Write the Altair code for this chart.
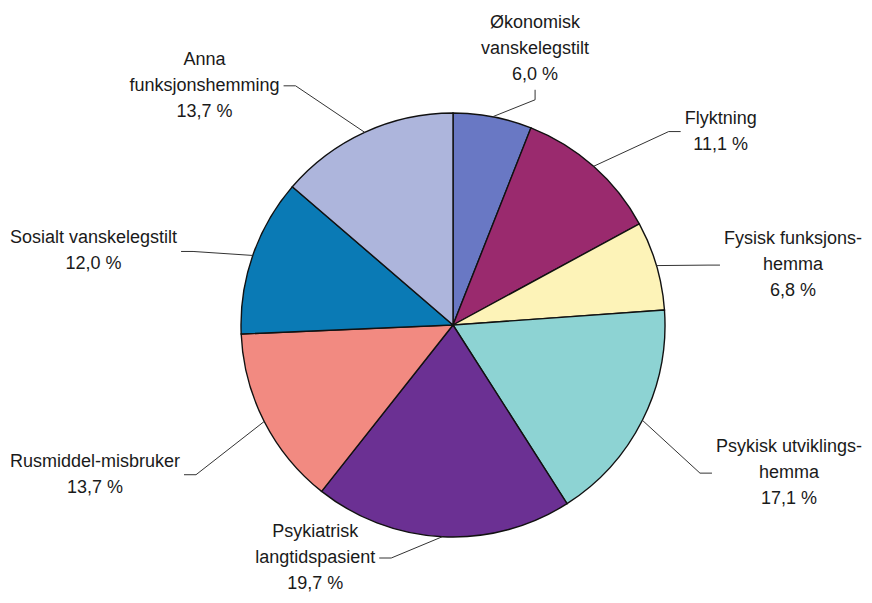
import math
import altair as alt
import pandas as pd

categories = [
    "Økonomisk\nvanskelegstilt",
    "Flyktning",
    "Fysisk funksjons-\nhemma",
    "Psykisk utviklings-\nhemma",
    "Psykiatrisk\nlangtidspasient",
    "Rusmiddel-misbruker",
    "Sosialt vanskelegstilt",
    "Anna\nfunksjonshemming",
]
shares = [6.0, 11.1, 6.8, 17.1, 19.7, 13.7, 12.0, 13.7]
colors = ["#6978c4", "#9a2a6e", "#fdf3b8", "#8dd3d3", "#6b3093", "#f28a81", "#0a7ab5", "#adb5dc"]

# layout
W, H = 856, 587
CX, CY = 445, 317          # pie centre inside plot area (px from left / top)
R = 212                    # pie radius (px)
LH = 26                    # label line height
FS = 18

# approximate glyph widths (em) of a Helvetica-like face, for label placement
_narrow = {"i": .222, "j": .222, "l": .222, "f": .278, "t": .278, " ": .278, ",": .278,
           "r": .333, "-": .333, "m": .833, "w": .722, "%": .889,
           "c": .5, "k": .5, "s": .5, "v": .5, "y": .5, "z": .5, "x": .5}
_upper = {"Ø": .778, "F": .611, "P": .667, "R": .722, "S": .667, "A": .667}


def text_width(line):
    return FS * sum(_upper.get(ch, _narrow.get(ch, .556)) for ch in line)


total = sum(shares)
rows, segs, labels = [], [], []
start = 0.0
for i, (cat, v) in enumerate(zip(categories, shares)):
    end = start + v
    mid = (start + end) / 2
    a = 2 * math.pi * mid / total
    sx, cy_ = math.sin(a), math.cos(a)
    rows.append(dict(idx=i, cat=cat, t0=start, t1=end, cx=0, cy=0))
    p0 = (R * sx, R * cy_)
    pct = f"{v:.1f}".replace(".", ",") + " %"
    text = cat + "\n" + pct
    lines = text.split("\n")
    n = len(lines)
    half = max(text_width(l) for l in lines) / 2
    s = 1 if sx >= 0 else -1
    if cy_ > 0.95:
        # label straight above the slice
        p1 = (p0[0] + s * 0.2 * R, p0[1] + 0.08 * R)
        p2 = (p1[0], p1[1] + 10)
        lx = p2[0]
        yc = p2[1] + 2 + n * LH / 2
    else:
        ax = s * (1.3 * R * abs(sx) + 60 * abs(cy_))
        yc = 1.345 * R * cy_ - 20
        yc = max(yc, -(H - CY) + (n - 1) * LH / 2 + 11)
        lx = ax + s * (half + 4)
        lx = min(lx, (W - CX) - half - 2)
        lx = max(lx, -CX + half + 2)
        ax = lx - s * (half + 4)
        p2 = (ax, yc)
        p1 = (ax - s * 12, yc)
    segs.append(dict(x=p0[0], y=p0[1], x2=p1[0], y2=p1[1]))
    segs.append(dict(x=p1[0], y=p1[1], x2=p2[0], y2=p2[1]))
    # Vega anchors multi-line text on its first line
    labels.append(dict(cat=cat, lx=lx, ly=yc + (n - 1) * LH / 2, text=text))
    start = end

slices = pd.DataFrame(rows)
leaders = pd.DataFrame(segs)
labs = pd.DataFrame(labels)

xs = alt.Scale(domain=[-CX, W - CX], range=[0, W], nice=False, zero=False)
ys = alt.Scale(domain=[-(H - CY), CY], range=[H, 0], nice=False, zero=False)

pie = alt.Chart(slices).mark_arc(outerRadius=R, stroke="#111111", strokeWidth=1.4).encode(
    theta=alt.Theta("t0:Q", scale=alt.Scale(domain=[0, total], range=[0, 2 * math.pi]), stack=None),
    theta2="t1:Q",
    x=alt.X("cx:Q", scale=xs, axis=None, stack=None),
    y=alt.Y("cy:Q", scale=ys, axis=None, stack=None),
    color=alt.Color("cat:N", scale=alt.Scale(domain=categories, range=colors), legend=None),
)

lines_layer = alt.Chart(leaders).mark_rule(color="#333333", strokeWidth=1).encode(
    x=alt.X("x:Q", scale=xs, axis=None),
    y=alt.Y("y:Q", scale=ys, axis=None),
    x2="x2:Q",
    y2="y2:Q",
)

text_layer = alt.Chart(labs).mark_text(
    align="center", baseline="middle", lineBreak="\n", fontSize=FS, lineHeight=LH,
    font="Liberation Sans", color="#1a1a1a",
).encode(
    x=alt.X("lx:Q", scale=xs, axis=None),
    y=alt.Y("ly:Q", scale=ys, axis=None),
    text="text:N",
)

chart = alt.layer(pie, lines_layer, text_layer).properties(
    width=W, height=H, padding=0, autosize=alt.AutoSizeParams(type="none"), background="white"
).configure_view(stroke=None)

chart.save("out.html", embed_options={"renderer": "svg", "actions": False})
